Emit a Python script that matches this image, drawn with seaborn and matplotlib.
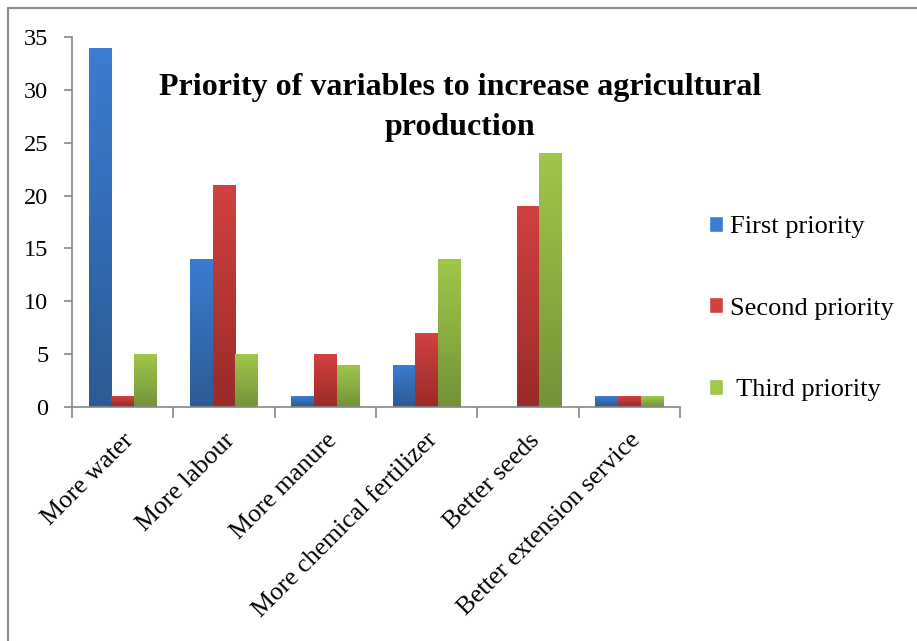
import numpy as np
import pandas as pd
import matplotlib
matplotlib.use("Agg")
import matplotlib.pyplot as plt
import seaborn as sns
from matplotlib.colors import LinearSegmentedColormap
from matplotlib.lines import Line2D

# ===== dados =====
categorias = ["More water", "More labour", "More manure",
              "More chemical fertilizer", "Better seeds", "Better extension service"]
first = [34, 14, 1, 4, 0, 1]
second = [1, 21, 5, 7, 19, 1]
third = [5, 5, 4, 14, 24, 1]
series = ["First priority", "Second priority", " Third priority"]

df = pd.DataFrame({
    "Variavel": categorias * 3,
    "Valor": first + second + third,
    "Serie": [series[0]] * 6 + [series[1]] * 6 + [series[2]] * 6,
})

# cores (topo claro, base escura)
cores = {series[0]: ("#3b7dd3", "#2c5a93"),
         series[1]: ("#d1413f", "#992b2a"),
         series[2]: ("#a0c74b", "#739338")}

sns.set_style("white")
plt.rcParams["font.family"] = ["Liberation Serif", "DejaVu Serif"]
plt.rcParams["text.color"] = "black"
plt.rcParams["xtick.labelcolor"] = "black"
plt.rcParams["ytick.labelcolor"] = "black"

fig = plt.figure(figsize=(9.17, 6.41), dpi=100)
ax = fig.add_axes([72 / 917, 1 - 407 / 641, 608 / 917, 370 / 641])

sns.barplot(data=df, x="Variavel", y="Valor", hue="Serie", ax=ax,
            palette={k: v[0] for k, v in cores.items()}, width=0.67,
            saturation=1, legend=True)

# degradê nas barras
for cont, s in zip(ax.containers, series):
    cmap = LinearSegmentedColormap.from_list(s, [cores[s][1], cores[s][0]])
    grad = np.linspace(0, 1, 256).reshape(-1, 1)
    for p in cont.patches:
        x0, y0 = p.get_x(), p.get_y()
        w, h = p.get_width(), p.get_height()
        if h <= 0:
            continue
        im = ax.imshow(grad, extent=[x0, x0 + w, y0, y0 + h], origin="lower",
                       aspect="auto", cmap=cmap, zorder=p.get_zorder() + 0.1)
        im.set_clip_path(p)
ax.set_ylim(0, 35)
ax.set_xlim(-0.5, 5.5)

ax.set_yticks(range(0, 36, 5))
ax.tick_params(axis="y", labelsize=17.5, length=6, width=1.2, color="#888888",
               direction="out", left=True, pad=11, labelcolor="black")
ax.set_xticks(np.arange(-0.5, 6, 1), minor=True)
ax.set_xticks(range(6))
ax.set_xticklabels(categorias, rotation=45, ha="right", rotation_mode="anchor",
                   fontsize=18.5, color="black")
ax.tick_params(axis="x", which="major", length=0, pad=16)
ax.tick_params(axis="x", which="minor", length=8, width=1.2, color="#888888",
               direction="out", bottom=True)
ax.set_xlabel("")
ax.set_ylabel("")

for lado in ["top", "right"]:
    ax.spines[lado].set_visible(False)
for lado in ["left", "bottom"]:
    ax.spines[lado].set_color("#888888")
    ax.spines[lado].set_linewidth(1.2)

ax.text(0.638, 0.809, "Priority of variables to increase agricultural\nproduction",
        transform=ax.transAxes, ha="center", va="center", fontsize=23,
        fontweight="bold", linespacing=1.5, color="black")

leg = ax.legend(loc="upper left", bbox_to_anchor=(685 / 917, 1 - 192 / 641),
                bbox_transform=fig.transFigure, frameon=False, fontsize=19,
                handlelength=0.55, handleheight=0.55, handletextpad=0.25,
                labelspacing=2.25)
for t in leg.get_texts():
    t.set_color("black")

# moldura (só topo e esquerda, como no original)
xe, yt = 8 / 917, 1 - 8 / 641
fig.add_artist(Line2D([xe, 1], [yt, yt], transform=fig.transFigure,
                      color="#8a8a8a", linewidth=1.5))
fig.add_artist(Line2D([xe, xe], [0, yt], transform=fig.transFigure,
                      color="#8a8a8a", linewidth=1.5))

fig.savefig("out.png", dpi=100)
